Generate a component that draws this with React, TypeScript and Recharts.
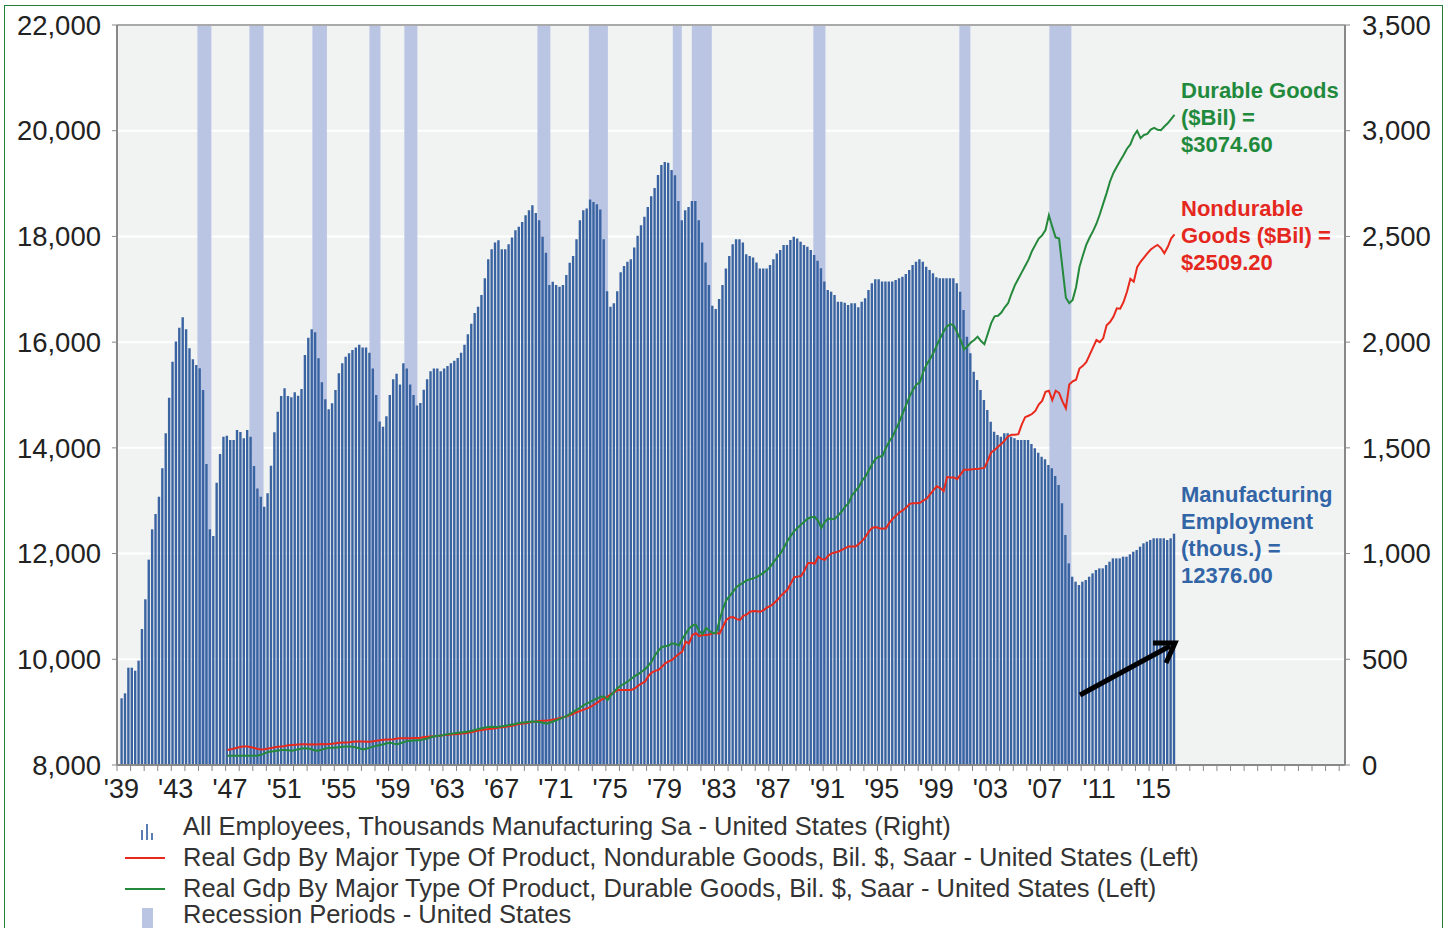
import React from "react";
import {
  ComposedChart,
  Bar,
  Line,
  XAxis,
  YAxis,
  CartesianGrid,
  ReferenceArea,
  ReferenceLine,
} from "recharts";

// quarterly series, first bar = 1939 Q2
const firstQuarter = 1939.375;
const lineStartIndex = 31; // GDP series begin in 1947

// All employees, manufacturing (thousands)
const employment = [
  9262, 9356, 9841, 9841, 9784, 9974, 10573, 11135, 11885, 12459,
  12749, 13076, 13613, 14275, 14949, 15627, 16014, 16273, 16470, 16242,
  15883, 15675, 15567, 15504, 15094, 13694, 12459, 12332, 13340, 13883,
  14211, 14230, 14149, 14149, 14338, 14300, 14180, 14338, 14211, 13656,
  13231, 13076, 12887, 13140, 13662, 14294, 14683, 14981, 15127, 14981,
  14956, 15050, 14987, 15114, 15756, 16083, 16242, 16185, 15694, 15240,
  14918, 14730, 14843, 15094, 15410, 15599, 15725, 15788,
  15850, 15900, 15950, 15900, 15900, 15800, 15500, 15000, 14500, 14400,
  14600, 15000, 15300, 15400, 15200, 15600, 15500, 15200, 15000, 14800,
  14850, 15100, 15300, 15450, 15500, 15500, 15450, 15500, 15550, 15600,
  15650, 15700, 15800, 15950, 16150, 16350, 16550,
  16671, 16892, 17207, 17569, 17758, 17885, 17929, 17758, 17758, 17853,
  17980, 18118, 18181, 18275, 18401, 18496, 18591, 18445, 18307, 17992,
  17689, 17079, 17141, 17079, 17047, 17079, 17270, 17500, 17632, 17948,
  18307, 18496, 18528, 18698, 18653, 18609, 18508, 17948, 16962, 16671,
  16734, 16962, 17320, 17439, 17520, 17570, 17790, 18011, 18212, 18370,
  18559, 18761, 18918, 19162, 19351, 19408, 19395, 19257, 19156, 18670,
  18307, 18496, 18559, 18670, 18670, 18307, 17885, 17507, 17079, 16690,
  16627, 16816, 17079, 17394, 17632, 17853, 17948, 17948, 17885, 17664,
  17632, 17600, 17507, 17394, 17394, 17394, 17460, 17570, 17676,
  17743, 17838, 17838, 17932, 17995, 17963, 17900, 17838, 17806, 17743,
  17649, 17541, 17397, 17145, 16987, 16955, 16892, 16766, 16766, 16747,
  16703, 16734, 16734, 16659, 16766, 16829, 16987, 17113, 17189, 17189,
  17145, 17145, 17145, 17145, 17176, 17207, 17238, 17289, 17365, 17459,
  17522, 17567, 17522, 17427, 17365, 17302, 17226, 17207, 17207, 17207,
  17207, 17207, 17113, 16955, 16608, 16104, 15788, 15441, 15284, 15094,
  14905, 14716, 14495, 14306, 14243, 14212, 14275, 14275, 14212, 14180,
  14149, 14149, 14149, 14149, 14073, 13991, 13909, 13833, 13783, 13675,
  13612, 13467, 13297, 12950, 12351, 11815, 11562, 11468, 11405, 11468,
  11500, 11562, 11626, 11689, 11720, 11720, 11783, 11846, 11909, 11909,
  11909, 11941, 11941, 11985, 12035, 12068, 12131, 12194, 12225, 12257,
  12289, 12289, 12289, 12289, 12257, 12289, 12376,
];

// Real GDP, durable goods (bil. $)
const durableGoods = [
  44, 44, 44, 44, 44, 44, 44, 44, 44, 45,
  48, 55, 62, 64, 66, 69, 71, 71, 70, 68,
  71, 75, 78, 79, 78, 73, 68, 69, 74, 78,
  81, 82, 83, 84, 86, 87, 87, 86, 83, 78,
  74, 77, 82, 87, 91, 95, 98, 103, 105, 101,
  98, 103, 108, 113, 115, 116, 117, 118, 122, 126,
  131, 136, 138, 140, 143, 146, 149, 150, 152, 154,
  156, 158, 162, 166,
  170, 174, 178, 180, 181, 180, 181, 183, 186, 189,
  192, 195, 199, 201, 202, 205, 206, 205, 203, 200,
  195, 200, 206, 212, 218, 225, 232, 242, 252, 262,
  272, 283, 292, 300, 308, 315,
  323, 324, 307, 330, 348, 365, 376, 386, 396, 408,
  420, 430, 441, 452, 470, 490, 520, 541, 558, 562,
  565, 576, 572, 565, 595, 620, 645, 660, 664, 632,
  620, 648, 635, 623, 625, 685, 740, 780, 800, 820,
  842, 853, 862, 874, 878, 883, 890, 899, 910, 922,
  940, 962, 982, 1002, 1030, 1060, 1085, 1106, 1122, 1137,
  1152, 1166, 1172, 1174, 1155, 1122, 1150, 1166, 1162, 1165,
  1182, 1200, 1222, 1238,
  1275, 1295, 1315, 1345, 1365, 1395, 1425, 1450, 1458, 1462,
  1500, 1530, 1555, 1590, 1625, 1665, 1705, 1745, 1775, 1800,
  1810, 1860, 1895, 1920, 1950, 1985, 2020, 2050, 2075, 2085,
  2078, 2045, 2010, 1965, 1980, 1998, 2010, 2026, 2005, 1990,
  2040, 2090, 2122, 2125, 2140, 2165, 2185, 2230, 2270, 2300,
  2330, 2360, 2390, 2430, 2460, 2490, 2505, 2530, 2600, 2545,
  2495, 2490, 2350, 2210, 2184, 2200, 2260, 2355, 2410, 2460,
  2495, 2525, 2560, 2605, 2655, 2705, 2760, 2800, 2830, 2858,
  2885, 2915, 2935, 2975, 3000, 2965, 2980, 2985, 3005, 3013,
  3005, 3003, 3020, 3035, 3055, 3074.6,
];

// Real GDP, nondurable goods (bil. $)
const nondurableGoods = [
  71, 74, 78, 82, 86, 88, 87, 84, 80, 76,
  73, 75, 78, 80, 84, 86, 88, 90, 93, 95,
  96, 97, 98, 98, 97, 98, 97, 98, 99, 98,
  99, 100, 103, 105, 106, 107, 108, 110, 111, 111,
  111, 110, 110, 112, 115, 117, 119, 121, 121, 122,
  125, 126, 126, 126, 127, 128, 128, 129, 132, 134,
  135, 136, 137, 140, 142, 143, 144, 146, 147, 149,
  150, 153, 156, 160,
  163, 166, 168, 170, 172, 174, 177, 179, 181, 183,
  186, 190, 194, 196, 198, 201, 204, 206, 208, 209,
  210, 212, 215, 218, 222, 226, 230, 236, 243, 250,
  256, 262, 268, 275, 285, 295,
  307, 315, 323, 335, 345, 355, 355, 355, 355, 355,
  362, 375, 385, 394, 420, 437, 445, 450, 465, 481,
  490, 497, 512, 525, 536, 583, 575, 615, 623, 610,
  615, 615, 617, 623, 623, 622, 655, 686, 698, 700,
  690, 686, 705, 712, 725, 728, 727, 725, 733, 745,
  752, 765, 780, 800, 815, 830, 860, 888, 891, 894,
  920, 954, 956, 952, 985, 975, 970, 990, 1001, 1005,
  1009, 1018, 1026, 1033,
  1033, 1033, 1045, 1060, 1080, 1105, 1122, 1125, 1120, 1118,
  1120, 1145, 1165, 1180, 1195, 1205, 1218, 1235, 1238, 1238,
  1240, 1250, 1260, 1280, 1300, 1318, 1310, 1295, 1362, 1360,
  1360, 1352, 1375, 1396, 1396, 1398, 1400, 1400, 1403, 1405,
  1440, 1478, 1490, 1505, 1518, 1535, 1555, 1562, 1562, 1565,
  1610, 1645, 1652, 1660, 1675, 1705, 1722, 1765, 1770, 1726,
  1770, 1760, 1720, 1687, 1800, 1815, 1822, 1875, 1888, 1905,
  1940, 1975, 2010, 2000, 2018, 2080, 2095, 2120, 2160, 2158,
  2190, 2238, 2300, 2286, 2355, 2380, 2400, 2420, 2438, 2450,
  2460, 2445, 2420, 2450, 2490, 2509.2,
];

const recessions = [
  [1944.92, 1945.95],
  [1948.75, 1949.79],
  [1953.39, 1954.46],
  [1957.59, 1958.4],
  [1960.16, 1961.12],
  [1969.96, 1970.91],
  [1973.75, 1975.15],
  [1979.93, 1980.59],
  [1981.33, 1982.8],
  [1990.28, 1991.17],
  [2001.03, 2001.84],
  [2007.66, 2009.28],
];

const labelYears = [
  1939, 1943, 1947, 1951, 1955, 1959, 1963, 1967, 1971, 1975,
  1979, 1983, 1987, 1991, 1995, 1999, 2003, 2007, 2011, 2015,
];
const yearLabels = [
  "'39", "'43", "'47", "'51", "'55", "'59", "'63", "'67", "'71", "'75",
  "'79", "'83", "'87", "'91", "'95", "'99", "'03", "'07", "'11", "'15",
];
const leftTicks = [8000, 10000, 12000, 14000, 16000, 18000, 20000, 22000];
const rightTicks = [0, 500, 1000, 1500, 2000, 2500, 3000, 3500];

const xDomain = [1939, 2029.43];
const plotLeft = 117;
const plotRight = 1345;
const pxPerYear = (plotRight - plotLeft) / (xDomain[1] - xDomain[0]);

const yearTicks: number[] = [];
for (let y = 1939; y <= 2029; y++) yearTicks.push(y);

const data = employment.map((v, i) => ({
  t: firstQuarter + i * 0.25,
  emp: v,
  dur: i >= lineStartIndex ? durableGoods[i - lineStartIndex] : null,
  non: i >= lineStartIndex ? nondurableGoods[i - lineStartIndex] : null,
}));

const FONT = '"Liberation Sans", Arial, Helvetica, sans-serif';

const YearTick = (props: any) => {
  const { x, y, payload } = props;
  const idx = labelYears.indexOf(payload.value);
  if (idx < 0) return <g />;
  return (
    <text
      x={x + pxPerYear * 0.32}
      y={y}
      dy={27}
      textAnchor="middle"
      fontSize={27}
      fill="#222"
      fontFamily={FONT}
    >
      {yearLabels[idx]}
    </text>
  );
};

const fmt = (v: number) => v.toLocaleString("en-US");

export default function App() {
  return (
    <div
      style={{
        position: "absolute",
        left: 0,
        top: 0,
        width: 1449,
        height: 928,
        background: "#fff",
        overflow: "hidden",
        fontFamily: FONT,
      }}
    >
      <div
        style={{
          position: "absolute",
          left: 4,
          top: 5,
          width: 1437,
          height: 960,
          border: "1.5px solid #23803c",
        }}
      />
      <div style={{ position: "absolute", left: 0, top: 0 }}>
        <ComposedChart
          width={1449}
          height={810}
          data={data}
          margin={{ top: 25, right: 0, bottom: 0, left: 0 }}
        >
          <CartesianGrid
            yAxisId="left"
            vertical={false}
            horizontalValues={leftTicks}
            stroke="#ffffff"
            strokeWidth={2}
            fill="#f1f2f2"
          />
          <XAxis
            type="number"
            dataKey="t"
            domain={xDomain}
            allowDataOverflow
            ticks={yearTicks}
            interval={0}
            height={45}
            tickSize={6}
            tickMargin={0}
            tick={<YearTick />}
            axisLine={{ stroke: "#888", strokeWidth: 2 }}
            tickLine={{ stroke: "#888" }}
          />
          <YAxis
            yAxisId="left"
            orientation="left"
            width={117}
            domain={[8000, 22000]}
            ticks={leftTicks}
            tickFormatter={fmt}
            tickSize={5}
            tickMargin={11}
            tick={{ fontSize: 27.5, fill: "#222", fontFamily: FONT }}
            axisLine={{ stroke: "#888", strokeWidth: 2 }}
            tickLine={{ stroke: "#888" }}
          />
          <YAxis
            yAxisId="right"
            orientation="right"
            width={104}
            domain={[0, 3500]}
            ticks={rightTicks}
            tickFormatter={fmt}
            tickSize={5}
            tickMargin={12}
            tick={{ fontSize: 27.5, fill: "#222", fontFamily: FONT }}
            axisLine={{ stroke: "#888", strokeWidth: 2 }}
            tickLine={{ stroke: "#888" }}
          />
          {recessions.map(([a, b], i) => (
            <ReferenceArea
              key={i}
              yAxisId="left"
              x1={a}
              x2={b}
              y1={8000}
              y2={22000}
              fill="#bac5e4"
              fillOpacity={1}
              stroke="none"
              ifOverflow="hidden"
            />
          ))}
          <ReferenceLine yAxisId="left" y={22000} stroke="#aaa" strokeWidth={2} />
          <Bar
            yAxisId="left"
            dataKey="emp"
            fill="#3a64a1"
            barSize={2.4}
            isAnimationActive={false}
          />
          <Line
            yAxisId="right"
            dataKey="non"
            type="linear"
            stroke="#e8291c"
            strokeWidth={2}
            dot={false}
            isAnimationActive={false}
          />
          <Line
            yAxisId="right"
            dataKey="dur"
            type="linear"
            stroke="#24893b"
            strokeWidth={2}
            dot={false}
            isAnimationActive={false}
          />
        </ComposedChart>
      </div>

      {/* right-side value notes */}
      <div
        style={{
          position: "absolute",
          left: 1181,
          top: 77,
          fontSize: 22,
          fontWeight: "bold",
          lineHeight: "27px",
          color: "#1f8a3c",
          whiteSpace: "nowrap",
        }}
      >
        Durable Goods
        <br />
        ($Bil) =
        <br />
        $3074.60
      </div>
      <div
        style={{
          position: "absolute",
          left: 1181,
          top: 195,
          fontSize: 22,
          fontWeight: "bold",
          lineHeight: "27px",
          color: "#e5281e",
          whiteSpace: "nowrap",
        }}
      >
        Nondurable
        <br />
        Goods ($Bil) =
        <br />
        $2509.20
      </div>
      <div
        style={{
          position: "absolute",
          left: 1181,
          top: 481,
          fontSize: 22,
          fontWeight: "bold",
          lineHeight: "27px",
          color: "#3265a6",
          whiteSpace: "nowrap",
        }}
      >
        Manufacturing
        <br />
        Employment
        <br />
        (thous.) =
        <br />
        12376.00
      </div>

      <svg
        style={{ position: "absolute", left: 0, top: 0 }}
        width={1449}
        height={928}
      >
        <line x1={1080} y1={695} x2={1170} y2={646} stroke="#000" strokeWidth={5} />
        <polyline
          points="1153,643 1175,643 1166,663"
          fill="none"
          stroke="#000"
          strokeWidth={5}
          strokeLinejoin="miter"
        />
      </svg>

      {/* legend */}
      <div style={{ position: "absolute", left: 0, top: 811, fontSize: 25.5, color: "#333" }}>
        <div style={{ position: "absolute", left: 141, top: 6 }}>
          <svg width={14} height={16}>
            <rect x={0} y={6} width={2} height={10} fill="#5a7db5" />
            <rect x={5} y={0} width={2} height={16} fill="#5a7db5" />
            <rect x={10} y={9} width={2} height={7} fill="#5a7db5" />
          </svg>
        </div>
        <div style={{ position: "absolute", left: 183, top: 0, whiteSpace: "nowrap", lineHeight: "31px" }}>
          All Employees, Thousands Manufacturing Sa - United States (Right)
        </div>
        <div style={{ position: "absolute", left: 125, top: 46, width: 40, height: 2, background: "#e8291c" }} />
        <div style={{ position: "absolute", left: 183, top: 31, whiteSpace: "nowrap", lineHeight: "31px" }}>
          Real Gdp By Major Type Of Product, Nondurable Goods, Bil. $, Saar - United States (Left)
        </div>
        <div style={{ position: "absolute", left: 125, top: 77, width: 40, height: 2, background: "#24893b" }} />
        <div style={{ position: "absolute", left: 183, top: 62, whiteSpace: "nowrap", lineHeight: "31px" }}>
          Real Gdp By Major Type Of Product, Durable Goods, Bil. $, Saar - United States (Left)
        </div>
        <div style={{ position: "absolute", left: 142, top: 97, width: 11, height: 20, background: "#bac5e4" }} />
        <div style={{ position: "absolute", left: 183, top: 93, whiteSpace: "nowrap", lineHeight: "20px" }}>
          Recession Periods - United States
        </div>
      </div>
    </div>
  );
}
